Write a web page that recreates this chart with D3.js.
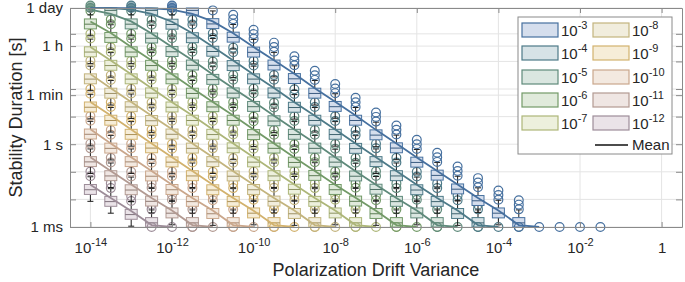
<!DOCTYPE html>
<html>
<head>
<meta charset="utf-8">
<script src="https://cdn.jsdelivr.net/npm/d3@7"></script>
<style>
    body { margin: 0; background: #fff; }
    svg { font-family: "Liberation Sans", Arial, sans-serif; }
</style>
</head>
<body>
<svg id="drawing_region"></svg>
<script>
// box columns: exponent of the polarization drift variance
const varianceExp = [-14, -13.5, -13, -12.5, -12, -11.5, -11, -10.5, -10, -9.5, -9, -8.5, -8,
    -7.5, -7, -6.5, -6, -5.5, -5, -4.5, -4, -3.5, -3, -2.5, -2, -1.5];

// one series per threshold exponent (legend order)
const thresholds = [-3, -4, -5, -6, -7, -8, -9, -10, -11, -12];

// box medians, log10 of duration in s (4.94 = stuck at 1 day, -3 = stuck at 1 ms)
const med_3 = [null, null, null, null, 4.94, 4.85, 4.36, 3.87, 3.33, 2.86, 2.37, 1.84, 1.36, 0.86, 0.33, -0.14, -0.66, -1.13, -1.63, -2.05, -2.5, -2.85, -3, -3, -3, -3];
const med_4 = [null, null, 4.94, 4.85, 4.34, 3.85, 3.36, 2.84, 2.36, 1.85, 1.33, 0.86, 0.35, -0.16, -0.64, -1.15, -1.66, -2.08, -2.52, -2.85, -3, -3];
const med_5 = [4.94, 4.85, 4.35, 3.84, 3.35, 2.86, 2.34, 1.85, 1.36, 0.84, 0.35, -0.15, -0.65, -1.16, -1.64, -2.08, -2.5, -2.85, -3, -3];
const med_6 = [4.35, 3.86, 3.34, 2.85, 2.36, 1.84, 1.35, 0.86, 0.34, -0.15, -0.66, -1.14, -1.65, -2.07, -2.52, -2.85, -3, -3];
const med_7 = [3.34, 2.85, 2.36, 1.85, 1.34, 0.86, 0.35, -0.14, -0.65, -1.15, -1.64, -2.08, -2.5, -2.85, -3, -3];
const med_8 = [2.36, 1.84, 1.35, 0.85, 0.36, -0.15, -0.64, -1.16, -1.65, -2.07, -2.52, -2.85, -3, -3];
const med_9 = [1.34, 0.86, 0.35, -0.14, -0.65, -1.15, -1.66, -2.08, -2.5, -2.85, -3, -3];
const med_10 = [0.36, -0.15, -0.64, -1.16, -1.65, -2.08, -2.52, -2.85, -3, -3];
const med_11 = [-0.64, -1.15, -1.66, -2.07, -2.5, -2.85, -3, -3];
const med_12 = [-1.65, -2.08, -2.55, -2.85, -3, -3];

// mean durations (log10 s), drawn as the lines
const mean_3 = [4.93, 4.93, 4.93, 4.92, 4.88, 4.72, 4.45, 4.02, 3.52, 3.04, 2.55, 2.03, 1.54, 1.04, 0.52, 0.03, -0.48, -0.97, -1.46, -1.95, -2.4, -2.93, -3];
const mean_4 = [4.93, 4.93, 4.88, 4.72, 4.44, 4.02, 3.53, 3.03, 2.53, 2.04, 1.52, 1.03, 0.53, 0.03, -0.47, -0.97, -1.47, -1.95, -2.4, -2.93, -3];
const mean_5 = [4.88, 4.72, 4.45, 4.01, 3.52, 3.04, 2.53, 2.03, 1.54, 1.03, 0.53, 0.04, -0.47, -0.98, -1.47, -1.95, -2.4, -2.93, -3];
const mean_6 = [4.45, 4.03, 3.52, 3.03, 2.54, 2.03, 1.53, 1.04, 0.53, 0.03, -0.48, -0.97, -1.47, -1.94, -2.41, -2.93, -3];
const mean_7 = [3.52, 3.03, 2.54, 2.03, 1.52, 1.04, 0.53, 0.03, -0.47, -0.97, -1.46, -1.95, -2.4, -2.93, -3];
const mean_8 = [2.54, 2.03, 1.53, 1.03, 0.54, 0.03, -0.47, -0.98, -1.47, -1.95, -2.4, -2.93, -3];
const mean_9 = [1.53, 1.04, 0.53, 0.03, -0.47, -0.97, -1.47, -1.95, -2.41, -2.93, -3];
const mean_10 = [0.54, 0.03, -0.47, -0.97, -1.47, -1.95, -2.4, -2.93, -3];
const mean_11 = [-0.47, -0.97, -1.46, -1.95, -2.4, -2.93, -3];
const mean_12 = [-1.47, -1.95, -2.42, -2.93, -3];

// box shape in decades: quartiles around the median, whiskers, outliers above q3
const quartileSpread = [0.17, 0.19];
const whiskerSpread = [0.25, 0.28];
const outlierOffsets = [0.3, 0.47, 0.63];
const outlierCount = [3, 2, 2, 2, 2, 2, 2, 2, 2, 2];

const xTicks = [1e-14, 1e-12, 1e-10, 1e-8, 1e-6, 1e-4, 1e-2, 1];
const xTickExp = ['-14', '-12', '-10', '-8', '-6', '-4', '-2', null];
const yTicks = [1e-3, 1e-2, 1e-1, 1, 10, 60, 100, 1000, 3600, 1e4, 86400];
const yTickLabels = ['1 ms', '', '', '1 s', '', '1 min', '', '', '1 h', '', '1 day'];

const edgeColors = ['#46709f', '#4d7a88', '#5f8a7b', '#739a68', '#adb679', '#c3b47e', '#d2b26e', '#caa78c', '#b29a92', '#9d8d99'];
const fillColors = ['#d5deed', '#d6e2e6', '#dae6e0', '#e0eadb', '#edf0dd', '#f1eddd', '#f6edd8', '#f3e9e0', '#efe6e3', '#eae3e8'];

const medians = [med_3, med_4, med_5, med_6, med_7, med_8, med_9, med_10, med_11, med_12];
const means = [mean_3, mean_4, mean_5, mean_6, mean_7, mean_8, mean_9, mean_10, mean_11, mean_12];

class DurationBoxPlot {

    constructor(config) {
        this.config = config;
        this.init();
    }

    init() {
        let self = this;

        self.svg = d3.select(self.config.parent)
            .attr('width', self.config.width)
            .attr('height', self.config.height);

        self.inner_width = self.config.width - self.config.margin.left - self.config.margin.right;
        self.inner_height = self.config.height - self.config.margin.top - self.config.margin.bottom;

        self.chart = self.svg.append('g')
            .attr('transform', `translate(${self.config.margin.left}, ${self.config.margin.top})`);

        self.xscale = d3.scaleLog()
            .domain([10 ** -14.5, 10 ** 0.5])
            .range([0, self.inner_width]);

        self.yscale = d3.scaleLog()
            .domain([1e-3, 86400])
            .range([self.inner_height, 0]);

        self.floor = -3;
        self.cap = Math.log10(86400);
    }

    ly(v) {
        const c = Math.max(this.floor, Math.min(this.cap, v));
        return this.yscale(10 ** c);
    }

    render() {
        let self = this;
        self.drawGrid();
        self.drawBoxes();
        self.drawMeans();
        self.drawAxes();
        self.drawLegend();
        self.drawLabels();
    }

    drawGrid() {
        let self = this;
        const grid = self.chart.append('g').attr('stroke', '#e4e4e4').attr('stroke-width', 1);
        grid.selectAll('.gx').data(xTicks).join('line')
            .attr('x1', d => self.xscale(d)).attr('x2', d => self.xscale(d))
            .attr('y1', 0).attr('y2', self.inner_height);
        grid.selectAll('.gy').data(yTicks).join('line')
            .attr('x1', 0).attr('x2', self.inner_width)
            .attr('y1', d => self.yscale(d)).attr('y2', d => self.yscale(d));
    }

    drawBoxes() {
        let self = this;
        const bw = 12, cw = 6, r = 4.4;
        const wcol = '#1a1a1a';

        const vline = (g, x, y1, y2) => g.append('line')
            .attr('x1', x).attr('x2', x).attr('y1', y1).attr('y2', y2)
            .attr('stroke', wcol).attr('stroke-width', 1);
        const hline = (g, x, y, w) => g.append('line')
            .attr('x1', x - w / 2).attr('x2', x + w / 2).attr('y1', y).attr('y2', y)
            .attr('stroke', wcol).attr('stroke-width', 1);
        const ring = (g, x, y, color) => g.append('circle')
            .attr('cx', x).attr('cy', y).attr('r', r)
            .attr('fill', 'none').attr('stroke', color).attr('stroke-width', 1.2);

        for (let k = thresholds.length - 1; k >= 0; k--) {
            const g = self.chart.append('g');
            const edge = edgeColors[k];
            const fill = fillColors[k];

            medians[k].forEach((m, i) => {
                if (m == null) return;
                const x = self.xscale(10 ** varianceExp[i]);

                if (m >= self.cap) {
                    const y0 = self.ly(self.cap);
                    const y1 = self.ly(self.cap - whiskerSpread[0]);
                    vline(g, x, y0, y1);
                    hline(g, x, y1, cw);
                    [0, -2.5].forEach(dy => g.append('circle')
                        .attr('cx', x).attr('cy', y0 + dy).attr('r', r)
                        .attr('fill', edge).attr('fill-opacity', 0.6)
                        .attr('stroke', edge).attr('stroke-width', 1.2));
                    return;
                }
                if (m <= self.floor) {
                    ring(g, x, self.ly(self.floor), edge);
                    return;
                }

                const q1 = m - quartileSpread[0];
                const q3 = m + quartileSpread[1];
                const wlo = q1 - whiskerSpread[0];
                const whi = q3 + whiskerSpread[1];

                if (q3 < self.cap) {
                    vline(g, x, self.ly(q3), self.ly(whi));
                    if (whi < self.cap) hline(g, x, self.ly(whi), cw);
                }
                if (q1 > self.floor) {
                    vline(g, x, self.ly(q1), self.ly(wlo));
                    if (wlo > self.floor) hline(g, x, self.ly(wlo), cw);
                }

                g.append('rect')
                    .attr('x', x - bw / 2)
                    .attr('y', self.ly(q3))
                    .attr('width', bw)
                    .attr('height', Math.max(1, self.ly(q1) - self.ly(q3)))
                    .attr('fill', fill)
                    .attr('stroke', edge)
                    .attr('stroke-width', 1);

                g.append('line')
                    .attr('x1', x - bw / 2).attr('x2', x + bw / 2)
                    .attr('y1', self.ly(m)).attr('y2', self.ly(m))
                    .attr('stroke', d3.color(edge).darker(0.6))
                    .attr('stroke-width', 1);

                for (let j = 0; j < outlierCount[k]; j++) {
                    const o = q3 + outlierOffsets[j];
                    if (o < self.cap - 0.05) ring(g, x, self.ly(o), edge);
                }
                if (wlo < self.floor) ring(g, x, self.ly(self.floor), edge);
            });
        }
    }

    drawMeans() {
        let self = this;
        const line = d3.line()
            .defined(d => d.m != null)
            .x(d => self.xscale(10 ** d.v))
            .y(d => self.ly(d.m));

        for (let k = thresholds.length - 1; k >= 0; k--) {
            const pts = means[k].map((m, i) => ({ v: varianceExp[i], m: m }));
            self.chart.append('path')
                .datum(pts)
                .attr('d', line)
                .attr('fill', 'none')
                .attr('stroke', edgeColors[k])
                .attr('stroke-width', 1.8);
        }
    }

    drawAxes() {
        let self = this;
        const axisColor = '#8a8a8a';

        const xaxis = d3.axisBottom(self.xscale)
            .tickValues(xTicks).tickSizeInner(-5).tickSizeOuter(0).tickPadding(14);
        const xtop = d3.axisTop(self.xscale)
            .tickValues(xTicks).tickSizeInner(-5).tickSizeOuter(0).tickFormat('');
        const yaxis = d3.axisLeft(self.yscale)
            .tickValues(yTicks).tickSizeInner(-6).tickSizeOuter(0).tickPadding(7)
            .tickFormat((d, i) => yTickLabels[i]);
        const yright = d3.axisRight(self.yscale)
            .tickValues(yTicks).tickSizeInner(-6).tickSizeOuter(0).tickFormat('');

        const gx = self.chart.append('g')
            .attr('transform', `translate(0, ${self.inner_height})`).call(xaxis);
        self.chart.append('g').call(xtop);
        const gy = self.chart.append('g').call(yaxis);
        self.chart.append('g')
            .attr('transform', `translate(${self.inner_width}, 0)`).call(yright);

        self.chart.selectAll('.domain, .tick line').attr('stroke', axisColor);

        gx.selectAll('.tick text')
            .attr('font-size', 15).attr('fill', '#262626').attr('dy', null).attr('y', 26)
            .each(function (d, i) {
                const t = d3.select(this).text(null);
                if (xTickExp[i] == null) { t.text('1'); return; }
                t.append('tspan').text('10');
                t.append('tspan').attr('font-size', 11).attr('dy', -7).text(xTickExp[i]);
            });

        gy.selectAll('.tick text')
            .attr('font-size', 15).attr('fill', '#262626');
    }

    drawLegend() {
        let self = this;
        const lg = self.svg.append('g');
        lg.append('rect')
            .attr('x', 518).attr('y', 17).attr('width', 154).attr('height', 137)
            .attr('fill', '#fff').attr('stroke', '#8a8a8a').attr('stroke-width', 1);

        const rowY = [30, 53, 77, 100, 123];
        thresholds.forEach((t, k) => {
            const col = Math.floor(k / 5), row = k % 5;
            const sx = col === 0 ? 522 : 593;
            const cy = rowY[row];
            lg.append('rect')
                .attr('x', sx).attr('y', cy - 7).attr('width', 36).attr('height', 14)
                .attr('fill', fillColors[k]).attr('stroke', edgeColors[k]).attr('stroke-width', 1.2);
            const tx = lg.append('text')
                .attr('x', sx + 39).attr('y', cy + 6)
                .attr('font-size', 15).attr('fill', '#262626');
            tx.append('tspan').text('10');
            tx.append('tspan').attr('font-size', 11).attr('dy', -7).text(String(t));
        });

        lg.append('line')
            .attr('x1', 595).attr('x2', 628).attr('y1', 145).attr('y2', 145)
            .attr('stroke', '#111').attr('stroke-width', 1.6);
        lg.append('text')
            .attr('x', 632).attr('y', 150)
            .attr('font-size', 15).attr('fill', '#262626')
            .text('Mean');
    }

    drawLabels() {
        let self = this;
        const m = self.config.margin;
        self.svg.append('text')
            .attr('x', m.left + self.inner_width / 2)
            .attr('y', 276)
            .attr('text-anchor', 'middle')
            .attr('font-size', 18).attr('fill', '#262626')
            .text('Polarization Drift Variance');

        self.svg.append('text')
            .attr('transform', `rotate(-90, 22, ${m.top + self.inner_height / 2})`)
            .attr('x', 22)
            .attr('y', m.top + self.inner_height / 2)
            .attr('text-anchor', 'middle')
            .attr('font-size', 18).attr('fill', '#262626')
            .text('Stability Duration [s]');
    }
}

const config = {
    parent: '#drawing_region',
    width: 685,
    height: 282,
    margin: { top: 8, right: 3, bottom: 55, left: 70 }
};

const plot = new DurationBoxPlot(config);
plot.render();
</script>
</body>
</html>
